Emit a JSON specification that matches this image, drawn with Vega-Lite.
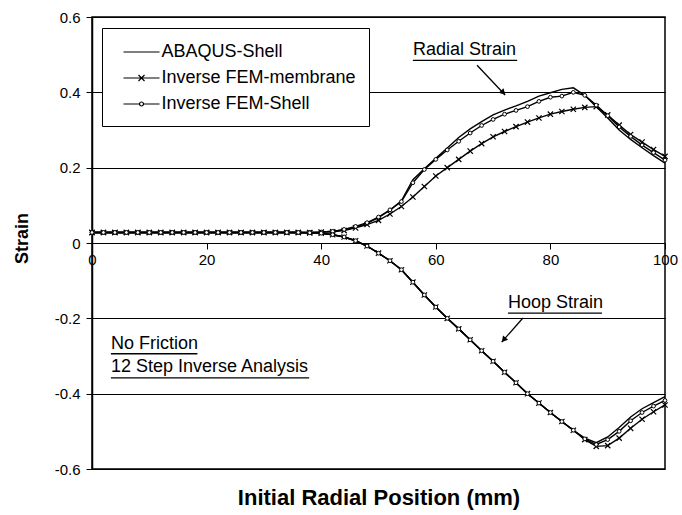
{
  "$schema": "https://vega.github.io/schema/vega-lite/v6.json",
  "autosize": "none",
  "width": 573,
  "height": 452,
  "padding": {"left": 92, "top": 17, "right": 17, "bottom": 46},
  "background": "white",
  "config": {
    "view": {"stroke": "black", "strokeWidth": 1.5},
    "font": "Liberation Sans"
  },
  "datasets": {
    "curves": [
      {"x":0,"s":"A","r":0.028,"h":0.028},{"x":0,"s":"M","r":0.028,"h":0.028},{"x":0,"s":"C","r":0.028,"h":0.028},
      {"x":2,"s":"A","r":0.028,"h":0.028},{"x":2,"s":"M","r":0.028,"h":0.028},{"x":2,"s":"C","r":0.028,"h":0.028},
      {"x":4,"s":"A","r":0.028,"h":0.028},{"x":4,"s":"M","r":0.028,"h":0.028},{"x":4,"s":"C","r":0.028,"h":0.028},
      {"x":6,"s":"A","r":0.028,"h":0.028},{"x":6,"s":"M","r":0.028,"h":0.028},{"x":6,"s":"C","r":0.028,"h":0.028},
      {"x":8,"s":"A","r":0.028,"h":0.028},{"x":8,"s":"M","r":0.028,"h":0.028},{"x":8,"s":"C","r":0.028,"h":0.028},
      {"x":10,"s":"A","r":0.028,"h":0.028},{"x":10,"s":"M","r":0.028,"h":0.028},{"x":10,"s":"C","r":0.028,"h":0.028},
      {"x":12,"s":"A","r":0.028,"h":0.028},{"x":12,"s":"M","r":0.028,"h":0.028},{"x":12,"s":"C","r":0.028,"h":0.028},
      {"x":14,"s":"A","r":0.028,"h":0.028},{"x":14,"s":"M","r":0.028,"h":0.028},{"x":14,"s":"C","r":0.028,"h":0.028},
      {"x":16,"s":"A","r":0.028,"h":0.028},{"x":16,"s":"M","r":0.028,"h":0.028},{"x":16,"s":"C","r":0.028,"h":0.028},
      {"x":18,"s":"A","r":0.028,"h":0.028},{"x":18,"s":"M","r":0.028,"h":0.028},{"x":18,"s":"C","r":0.028,"h":0.028},
      {"x":20,"s":"A","r":0.028,"h":0.028},{"x":20,"s":"M","r":0.028,"h":0.028},{"x":20,"s":"C","r":0.028,"h":0.028},
      {"x":22,"s":"A","r":0.028,"h":0.028},{"x":22,"s":"M","r":0.028,"h":0.028},{"x":22,"s":"C","r":0.028,"h":0.028},
      {"x":24,"s":"A","r":0.028,"h":0.028},{"x":24,"s":"M","r":0.028,"h":0.028},{"x":24,"s":"C","r":0.028,"h":0.028},
      {"x":26,"s":"A","r":0.028,"h":0.028},{"x":26,"s":"M","r":0.028,"h":0.028},{"x":26,"s":"C","r":0.028,"h":0.028},
      {"x":28,"s":"A","r":0.028,"h":0.028},{"x":28,"s":"M","r":0.028,"h":0.028},{"x":28,"s":"C","r":0.028,"h":0.028},
      {"x":30,"s":"A","r":0.028,"h":0.028},{"x":30,"s":"M","r":0.028,"h":0.028},{"x":30,"s":"C","r":0.028,"h":0.028},
      {"x":32,"s":"A","r":0.028,"h":0.028},{"x":32,"s":"M","r":0.028,"h":0.028},{"x":32,"s":"C","r":0.028,"h":0.028},
      {"x":34,"s":"A","r":0.028,"h":0.028},{"x":34,"s":"M","r":0.028,"h":0.028},{"x":34,"s":"C","r":0.028,"h":0.028},
      {"x":36,"s":"A","r":0.028,"h":0.028},{"x":36,"s":"M","r":0.028,"h":0.028},{"x":36,"s":"C","r":0.028,"h":0.028},
      {"x":38,"s":"A","r":0.028,"h":0.027},{"x":38,"s":"M","r":0.028,"h":0.027},{"x":38,"s":"C","r":0.028,"h":0.027},
      {"x":40,"s":"A","r":0.029,"h":0.026},{"x":40,"s":"M","r":0.029,"h":0.026},{"x":40,"s":"C","r":0.029,"h":0.026},
      {"x":42,"s":"A","r":0.031,"h":0.022},{"x":42,"s":"M","r":0.030,"h":0.022},{"x":42,"s":"C","r":0.031,"h":0.022},
      {"x":44,"s":"A","r":0.035,"h":0.016},{"x":44,"s":"M","r":0.033,"h":0.016},{"x":44,"s":"C","r":0.036,"h":0.016},
      {"x":46,"s":"A","r":0.042,"h":0.006},{"x":46,"s":"M","r":0.040,"h":0.006},{"x":46,"s":"C","r":0.044,"h":0.006},
      {"x":48,"s":"A","r":0.052,"h":-0.008},{"x":48,"s":"M","r":0.049,"h":-0.008},{"x":48,"s":"C","r":0.054,"h":-0.008},
      {"x":50,"s":"A","r":0.067,"h":-0.027},{"x":50,"s":"M","r":0.060,"h":-0.027},{"x":50,"s":"C","r":0.069,"h":-0.027},
      {"x":52,"s":"A","r":0.087,"h":-0.047},{"x":52,"s":"M","r":0.077,"h":-0.047},{"x":52,"s":"C","r":0.088,"h":-0.047},
      {"x":54,"s":"A","r":0.112,"h":-0.071},{"x":54,"s":"M","r":0.097,"h":-0.071},{"x":54,"s":"C","r":0.110,"h":-0.071},
      {"x":56,"s":"A","r":0.168,"h":-0.104},{"x":56,"s":"M","r":0.122,"h":-0.104},{"x":56,"s":"C","r":0.160,"h":-0.104},
      {"x":58,"s":"A","r":0.197,"h":-0.138},{"x":58,"s":"M","r":0.150,"h":-0.138},{"x":58,"s":"C","r":0.195,"h":-0.138},
      {"x":60,"s":"A","r":0.225,"h":-0.170},{"x":60,"s":"M","r":0.178,"h":-0.170},{"x":60,"s":"C","r":0.222,"h":-0.170},
      {"x":62,"s":"A","r":0.252,"h":-0.200},{"x":62,"s":"M","r":0.200,"h":-0.200},{"x":62,"s":"C","r":0.247,"h":-0.200},
      {"x":64,"s":"A","r":0.280,"h":-0.228},{"x":64,"s":"M","r":0.222,"h":-0.228},{"x":64,"s":"C","r":0.270,"h":-0.228},
      {"x":66,"s":"A","r":0.303,"h":-0.257},{"x":66,"s":"M","r":0.244,"h":-0.257},{"x":66,"s":"C","r":0.292,"h":-0.257},
      {"x":68,"s":"A","r":0.322,"h":-0.286},{"x":68,"s":"M","r":0.264,"h":-0.286},{"x":68,"s":"C","r":0.312,"h":-0.286},
      {"x":70,"s":"A","r":0.340,"h":-0.314},{"x":70,"s":"M","r":0.282,"h":-0.314},{"x":70,"s":"C","r":0.328,"h":-0.314},
      {"x":72,"s":"A","r":0.353,"h":-0.343},{"x":72,"s":"M","r":0.296,"h":-0.343},{"x":72,"s":"C","r":0.342,"h":-0.343},
      {"x":74,"s":"A","r":0.364,"h":-0.371},{"x":74,"s":"M","r":0.309,"h":-0.371},{"x":74,"s":"C","r":0.352,"h":-0.371},
      {"x":76,"s":"A","r":0.376,"h":-0.400},{"x":76,"s":"M","r":0.321,"h":-0.400},{"x":76,"s":"C","r":0.362,"h":-0.400},
      {"x":78,"s":"A","r":0.390,"h":-0.425},{"x":78,"s":"M","r":0.332,"h":-0.425},{"x":78,"s":"C","r":0.376,"h":-0.425},
      {"x":80,"s":"A","r":0.399,"h":-0.450},{"x":80,"s":"M","r":0.342,"h":-0.450},{"x":80,"s":"C","r":0.387,"h":-0.450},
      {"x":82,"s":"A","r":0.408,"h":-0.474},{"x":82,"s":"M","r":0.349,"h":-0.474},{"x":82,"s":"C","r":0.390,"h":-0.474},
      {"x":84,"s":"A","r":0.412,"h":-0.497},{"x":84,"s":"M","r":0.355,"h":-0.497},{"x":84,"s":"C","r":0.400,"h":-0.497},
      {"x":86,"s":"A","r":0.392,"h":-0.518},{"x":86,"s":"M","r":0.360,"h":-0.522},{"x":86,"s":"C","r":0.392,"h":-0.520},
      {"x":88,"s":"A","r":0.362,"h":-0.530},{"x":88,"s":"M","r":0.362,"h":-0.540},{"x":88,"s":"C","r":0.366,"h":-0.535},
      {"x":90,"s":"A","r":0.332,"h":-0.515},{"x":90,"s":"M","r":0.340,"h":-0.538},{"x":90,"s":"C","r":0.338,"h":-0.522},
      {"x":92,"s":"A","r":0.300,"h":-0.490},{"x":92,"s":"M","r":0.313,"h":-0.518},{"x":92,"s":"C","r":0.308,"h":-0.500},
      {"x":94,"s":"A","r":0.275,"h":-0.462},{"x":94,"s":"M","r":0.288,"h":-0.492},{"x":94,"s":"C","r":0.283,"h":-0.472},
      {"x":96,"s":"A","r":0.253,"h":-0.440},{"x":96,"s":"M","r":0.268,"h":-0.468},{"x":96,"s":"C","r":0.260,"h":-0.450},
      {"x":98,"s":"A","r":0.232,"h":-0.424},{"x":98,"s":"M","r":0.248,"h":-0.448},{"x":98,"s":"C","r":0.240,"h":-0.433},
      {"x":100,"s":"A","r":0.212,"h":-0.408},{"x":100,"s":"M","r":0.230,"h":-0.430},{"x":100,"s":"C","r":0.220,"h":-0.418}
    ],
    "notes": [
      {"x":56.0,"y":0.512,"t":"Radial Strain"},
      {"x":72.6,"y":-0.159,"t":"Hoop Strain"},
      {"x":3.3,"y":-0.268,"t":"No Friction"},
      {"x":3.3,"y":-0.330,"t":"12 Step Inverse Analysis"}
    ],
    "segs": [
      {"x":56.0,"y":0.485,"x2":74.2,"y2":0.485},
      {"x":72.6,"y":-0.186,"x2":89.0,"y2":-0.186},
      {"x":3.3,"y":-0.294,"x2":18.4,"y2":-0.294},
      {"x":3.3,"y":-0.358,"x2":37.9,"y2":-0.358},
      {"x":67.2,"y":0.472,"x2":72.1,"y2":0.393},
      {"x":75.2,"y":-0.199,"x2":71.5,"y2":-0.263}
    ],
    "head1": [{"x":71.75,"y":0.399}],
    "head2": [{"x":71.85,"y":-0.257}]
  },
  "layer": [
    {
      "data": {"name": "curves"},
      "transform": [{"fold": ["r", "h"], "as": ["k", "v"]}],
      "mark": {"type": "line", "strokeWidth": 1.4},
      "encoding": {
        "x": {
          "field": "x", "type": "quantitative",
          "scale": {"domain": [0, 100], "nice": false, "zero": false},
          "axis": {
            "values": [0, 20, 40, 60, 80, 100],
            "grid": false, "domain": false, "offset": -226,
            "tickColor": "black", "tickSize": 6, "tickWidth": 1,
            "labelFont": "Liberation Sans", "labelFontSize": 15, "labelColor": "black",
            "labelPadding": 3, "labelFlush": false, "labelOverlap": false,
            "title": "Initial Radial Position (mm)",
            "titleFont": "Liberation Sans", "titleFontSize": 22, "titleFontWeight": "bold",
            "titleColor": "black", "titleY": 254, "titleBaseline": "middle"
          }
        },
        "y": {
          "field": "v", "type": "quantitative",
          "scale": {"domain": [-0.6, 0.6], "nice": false, "zero": false},
          "axis": {
            "values": [-0.6, -0.4, -0.2, 0, 0.2, 0.4, 0.6],
            "grid": true, "gridColor": "black", "gridWidth": 1, "gridOpacity": 1,
            "domainColor": "black", "domainWidth": 1.5,
            "tickColor": "black", "tickSize": 6, "tickWidth": 1,
            "labelFont": "Liberation Sans", "labelFontSize": 15, "labelColor": "black",
            "labelPadding": 6, "labelFlush": false, "labelOverlap": false,
            "labelExpr": "datum.value == 0 ? '0' : replace(format(datum.value, '.1f'), '\u2212', '-')",
            "title": "Strain",
            "titleFont": "Liberation Sans", "titleFontSize": 18, "titleFontWeight": "bold",
            "titleColor": "black", "titleX": -70, "titleY": 221, "titleBaseline": "middle"
          }
        },
        "color": {
          "field": "s", "type": "nominal",
          "scale": {"domain": ["A", "M", "C"], "range": ["black", "black", "black"]},
          "legend": {
            "orient": "none", "legendX": 10, "legendY": 11,
            "title": null,
            "strokeColor": "black", "fillColor": "white",
            "padding": 13,
            "labelFont": "Liberation Sans", "labelFontSize": 18, "labelColor": "black",
            "labelLimit": 0,
            "symbolSize": 400, "symbolStrokeWidth": 1.2, "symbolStrokeColor": "black",
            "symbolOffset": 15.5, "labelOffset": 9,
            "rowPadding": 6,
            "labelExpr": "datum.value == 'A' ? 'ABAQUS-Shell' : datum.value == 'M' ? 'Inverse FEM-membrane' : 'Inverse FEM-Shell'",
            "encode": {
              "symbols": {
                "update": {
                  "shape": {"signal": "datum.value == 'A' ? 'M-1.8,0H1.8' : datum.value == 'M' ? 'M-1.8,0H1.8M-0.3,-0.3L0.3,0.3M-0.3,0.3L0.3,-0.3' : 'M-1.8,0H-0.2M0.2,0H1.8M-0.2,0A0.2,0.2 0 1 1 0.2,0A0.2,0.2 0 1 1 -0.2,0'"},
                  "stroke": {"value": "black"},
                  "fill": {"value": "transparent"}
                }
              }
            }
          }
        },
        "detail": {"field": "k", "type": "nominal"}
      }
    },
    {
      "data": {"name": "curves"},
      "transform": [{"filter": "datum.s == 'M'"}, {"fold": ["r", "h"], "as": ["k", "v"]}],
      "mark": {"type": "point", "shape": "M-1,-1L1,1M-1,1L1,-1", "size": 28, "filled": false, "stroke": "black", "strokeWidth": 1.2, "opacity": 1},
      "encoding": {
        "x": {"field": "x", "type": "quantitative"},
        "y": {"field": "v", "type": "quantitative"}
      }
    },
    {
      "data": {"name": "curves"},
      "transform": [{"filter": "datum.s == 'C'"}, {"fold": ["r", "h"], "as": ["k", "v"]}],
      "mark": {"type": "point", "shape": "circle", "size": 14, "filled": true, "fill": "white", "stroke": "black", "strokeWidth": 1, "opacity": 1},
      "encoding": {
        "x": {"field": "x", "type": "quantitative"},
        "y": {"field": "v", "type": "quantitative"}
      }
    },
    {
      "data": {"name": "notes"},
      "mark": {"type": "text", "align": "left", "baseline": "middle", "font": "Liberation Sans", "fontSize": 18, "color": "black"},
      "encoding": {
        "x": {"field": "x", "type": "quantitative"},
        "y": {"field": "y", "type": "quantitative"},
        "text": {"field": "t"}
      }
    },
    {
      "data": {"name": "segs"},
      "mark": {"type": "rule", "color": "black", "strokeWidth": 1.3},
      "encoding": {
        "x": {"field": "x", "type": "quantitative"},
        "y": {"field": "y", "type": "quantitative"},
        "x2": {"field": "x2"},
        "y2": {"field": "y2"}
      }
    },
    {
      "data": {"name": "head1"},
      "mark": {"type": "point", "shape": "triangle-up", "size": 45, "filled": true, "color": "black", "angle": 137, "opacity": 1},
      "encoding": {
        "x": {"field": "x", "type": "quantitative"},
        "y": {"field": "y", "type": "quantitative"}
      }
    },
    {
      "data": {"name": "head2"},
      "mark": {"type": "point", "shape": "triangle-up", "size": 45, "filled": true, "color": "black", "angle": 221, "opacity": 1},
      "encoding": {
        "x": {"field": "x", "type": "quantitative"},
        "y": {"field": "y", "type": "quantitative"}
      }
    }
  ]
}
